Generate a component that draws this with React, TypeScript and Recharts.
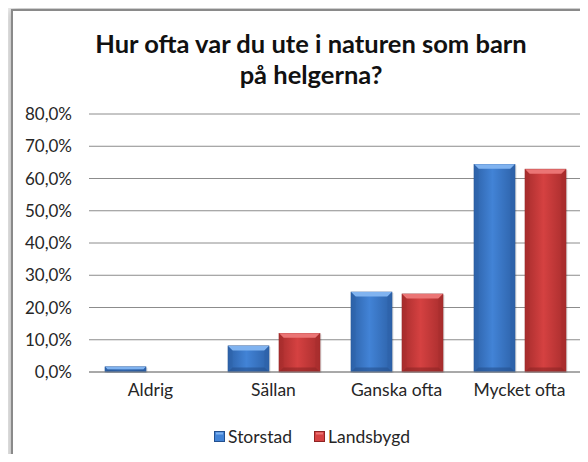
import React from 'react';
import { BarChart, Bar, XAxis, YAxis, CartesianGrid, Legend } from 'recharts';

// --- Data (andel i procent) ---
const categories = ['Aldrig', 'Sällan', 'Ganska ofta', 'Mycket ofta'];
const seriesNames = ['Storstad', 'Landsbygd'];
const storstad = [1.6, 8.1, 24.8, 64.4];
const landsbygd = [0, 12.0, 24.2, 62.9];
const yTicks = [0, 10, 20, 30, 40, 50, 60, 70, 80];

const data = categories.map((name, i) => ({ name, Storstad: storstad[i], Landsbygd: landsbygd[i] }));

const FONT = 'Lato, "Open Sans", sans-serif';

const palette: Record<string, { main: string; edge: string; top: string; dark: string }> = {
  blue: { main: '#4283d6', edge: '#2d62a9', top: '#80b3f0', dark: '#24508e' },
  red: { main: '#d54141', edge: '#a82d2d', top: '#eb7575', dark: '#8e2424' },
};
const toneOf: Record<string, 'blue' | 'red'> = { Storstad: 'blue', Landsbygd: 'red' };

// bar with a bevelled look, like the old Office 3D-ish style
const BevelBar = (tone: 'blue' | 'red') => (props: any) => {
  const { x, y, width, height } = props;
  if (!height || height <= 0) return <g />;
  const c = palette[tone];
  const b = Math.min(4.5, height / 2, width / 4);
  return (
    <g>
      <rect x={x + 1.5} y={y + 1} width={width} height={height} fill="rgba(0,0,0,0.12)" />
      <rect x={x} y={y} width={width} height={height} fill={`url(#grad-${tone})`} stroke={c.dark} strokeWidth={0.6} />
      <polygon points={`${x},${y} ${x + width},${y} ${x + width - b},${y + b} ${x + b},${y + b}`} fill={c.top} />
      <polygon points={`${x},${y} ${x + b},${y + b} ${x + b},${y + height - b} ${x},${y + height}`} fill={c.edge} opacity={0.55} />
      <polygon points={`${x + width},${y} ${x + width - b},${y + b} ${x + width - b},${y + height - b} ${x + width},${y + height}`} fill={c.edge} opacity={0.7} />
      <polygon points={`${x},${y + height} ${x + b},${y + height - b} ${x + width - b},${y + height - b} ${x + width},${y + height}`} fill={c.dark} opacity={0.6} />
    </g>
  );
};

const LegendContent = (props: any) => {
  const { payload = [] } = props;
  const items = seriesNames.filter((n) => payload.some((p: any) => p.value === n));
  return (
    <div style={{ display: 'flex', justifyContent: 'center', gap: 22, fontFamily: FONT, fontSize: 17.5, color: '#262626' }}>
      {items.map((name) => {
        const c = palette[toneOf[name]];
        return (
          <div key={name} style={{ display: 'flex', alignItems: 'center', gap: 3 }}>
            <svg width={11} height={11}>
              <rect x={0.5} y={0.5} width={10} height={10} fill={c.main} stroke={c.dark} />
              <rect x={2} y={1.5} width={7} height={2} fill={c.top} />
            </svg>
            <span>{name}</span>
          </div>
        );
      })}
    </div>
  );
};

const fmt = (v: number) => v.toFixed(1).replace('.', ',') + '%';

export default function App() {
  return (
    <div style={{ position: 'relative', width: 588, height: 462, margin: -8, overflow: 'hidden', background: '#ffffff' }}>
      <div
        style={{
          position: 'absolute', left: 11, top: 9, width: 600, height: 480,
          borderLeft: '2px solid #8a8a8a', borderTop: '2px solid #8a8a8a',
          boxShadow: '-2px -2px 12px rgba(0,0,0,0.32)', background: '#ffffff',
        }}
      />
      <div
        style={{
          position: 'absolute', left: 40, top: 28, width: 542, textAlign: 'center',
          fontFamily: FONT, fontWeight: 700, fontSize: 25.5, lineHeight: '31px', color: '#111111',
        }}
      >
        Hur ofta var du ute i naturen som barn<br />på helgerna?
      </div>
      <div style={{ position: 'absolute', left: 0, top: 0 }}>
        <BarChart width={588} height={462} data={data} margin={{ top: 114, right: 7, bottom: 60, left: 0 }} barSize={41} barGap={10}>
          <defs>
            <linearGradient id="grad-blue" x1="0" y1="0" x2="1" y2="0">
              <stop offset="0%" stopColor={palette.blue.edge} />
              <stop offset="45%" stopColor={palette.blue.main} />
              <stop offset="100%" stopColor={palette.blue.edge} />
            </linearGradient>
            <linearGradient id="grad-red" x1="0" y1="0" x2="1" y2="0">
              <stop offset="0%" stopColor={palette.red.edge} />
              <stop offset="45%" stopColor={palette.red.main} />
              <stop offset="100%" stopColor={palette.red.edge} />
            </linearGradient>
          </defs>
          <CartesianGrid vertical={false} stroke="#8c8c8c" />
          <XAxis
            dataKey="name"
            tickLine={false}
            axisLine={{ stroke: '#8c8c8c' }}
            tickMargin={6}
            tick={{ fill: '#262626', fontSize: 17.5, fontFamily: FONT }}
          />
          <YAxis
            domain={[0, 80]}
            ticks={yTicks}
            tickFormatter={fmt}
            width={89}
            axisLine={false}
            tickLine={false}
            tickMargin={11}
            tick={{ fill: '#262626', fontSize: 17, fontFamily: FONT }}
          />
          <Legend
            layout="horizontal"
            verticalAlign="middle"
            align="center"
            content={<LegendContent />}
            wrapperStyle={{ position: 'absolute', left: 150, top: 426, width: 324 }}
          />
          <Bar dataKey="Storstad" fill={palette.blue.main} shape={BevelBar('blue')} isAnimationActive={false} />
          <Bar dataKey="Landsbygd" fill={palette.red.main} shape={BevelBar('red')} isAnimationActive={false} />
        </BarChart>
      </div>
    </div>
  );
}
